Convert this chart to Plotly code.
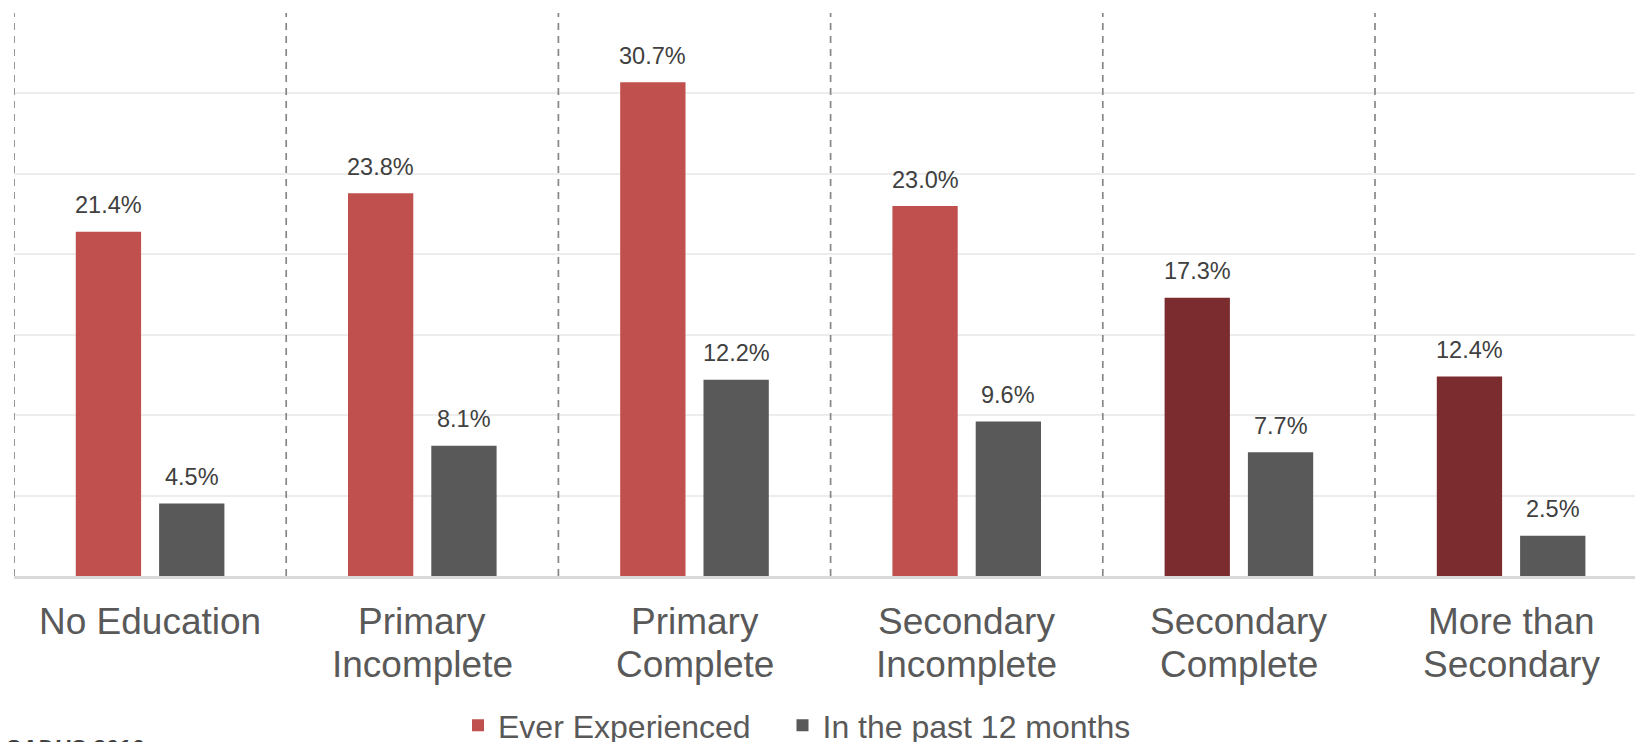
import plotly.graph_objects as go

categories = ["No Education", "Primary<br>Incomplete", "Primary<br>Complete",
              "Secondary<br>Incomplete", "Secondary<br>Complete", "More than<br>Secondary"]
ever_experienced = [21.4, 23.8, 30.7, 23.0, 17.3, 12.4]
past_12_months = [4.5, 8.1, 12.2, 9.6, 7.7, 2.5]
series_names = ["Ever Experienced", "In the past 12 months"]

RED = "#C0504D"
DARK_RED = "#7B2C2E"
GRAY = "#595959"
ever_colors = [RED, RED, RED, RED, DARK_RED, DARK_RED]

W, H = 1635, 742
ML, MR, MT, MB = 14, 0, 12.5, 166.4
CAT_PX = 272.2
BARGAP = 0.388
BARGROUPGAP = 0.216
xmax = -0.5 + (W - ML - MR) / CAT_PX
plot_h = H - MT - MB
plot_w = W - ML - MR


def px_x(px):
    return (px - ML) / plot_w


def px_y(py):
    return ((H - MB) - py) / plot_h


xidx = list(range(len(categories)))

fig = go.Figure()
fig.add_trace(go.Bar(x=xidx, y=ever_experienced, name=series_names[0], legend="legend",
                     marker=dict(color=ever_colors, line=dict(width=0))))
fig.add_trace(go.Bar(x=xidx, y=past_12_months, name=series_names[1], legend="legend2",
                     marker=dict(color=GRAY, line=dict(width=0))))

slot = (1 - BARGAP) / 2
shift_px = slot / 2 * CAT_PX

annotations = []
for i, (a, b) in enumerate(zip(ever_experienced, past_12_months)):
    for val, sx in ((a, -shift_px), (b, shift_px)):
        annotations.append(dict(x=i, y=val, xref="x", yref="y", text=f"{val:.1f}%",
                                showarrow=False, xshift=sx, yshift=26.5, yanchor="middle",
                                font=dict(family="Liberation Sans, Arial", size=23.5, color="#404040")))
    for j, line in enumerate(categories[i].split("<br>")):
        annotations.append(dict(x=i, y=0, xref="x", yref="y", text=line, showarrow=False,
                                yanchor="middle", yshift=-(45 + 43 * j),
                                font=dict(family="Liberation Sans, Arial", size=37, color="#595959")))

annotations.append(dict(x=px_x(3), y=px_y(734), xref="paper", yref="paper",
                        text="<b><i>SADHS 2016</i></b>",
                        showarrow=False, xanchor="left", yanchor="top",
                        font=dict(family="Liberation Sans, Arial", size=23, color="#404040")))

shapes = []
for k in range(len(categories)):
    shapes.append(dict(type="line", xref="x", yref="y", x0=k - 0.5, x1=k - 0.5, y0=0, y1=35,
                       line=dict(color="#878787", width=1.7, dash="7px,6px"), layer="above"))

legend_font = dict(family="Liberation Sans, Arial", size=32, color="#595959")

fig.update_layout(
    width=W, height=H,
    margin=dict(l=ML, r=MR, t=MT, b=MB, pad=0, autoexpand=False),
    paper_bgcolor="white", plot_bgcolor="white",
    barmode="group", bargap=BARGAP, bargroupgap=BARGROUPGAP,
    showlegend=True,
    legend=dict(orientation="h", x=px_x(458), xanchor="left",
                y=px_y(725), yanchor="middle", font=legend_font,
                bgcolor="rgba(0,0,0,0)", itemclick=False),
    legend2=dict(orientation="h", x=px_x(782.5), xanchor="left",
                 y=px_y(725), yanchor="middle", font=legend_font,
                 bgcolor="rgba(0,0,0,0)", itemclick=False),
    annotations=annotations,
    shapes=shapes,
    xaxis=dict(range=[-0.5, xmax], tickmode="array", tickvals=xidx, showticklabels=False,
               showgrid=False, showline=True, linecolor="#D9D9D9", linewidth=2.5,
               ticks="", zeroline=False, fixedrange=True),
    yaxis=dict(range=[0, 35], dtick=5, showticklabels=False, showgrid=True,
               gridcolor="#EDEDED", gridwidth=1.5, zeroline=False, ticks="", fixedrange=True),
)

fig.write_html("out.html", config={"displayModeBar": False},
               post_script="document.body.style.margin='0px';document.body.style.overflow='hidden';")
